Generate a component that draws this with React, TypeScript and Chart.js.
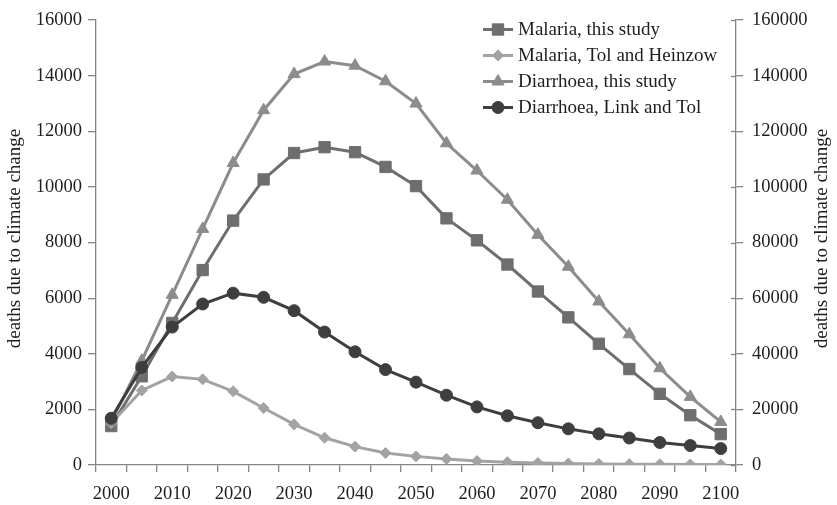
import React, { useEffect, useRef } from "react";
import { Chart, registerables } from "chart.js";
import { drawPoint } from "chart.js/helpers";

Chart.register(...registerables);

const years = [
  "2000", "2005", "2010", "2015", "2020", "2025", "2030", "2035", "2040", "2045", "2050",
  "2055", "2060", "2065", "2070", "2075", "2080", "2085", "2090", "2095", "2100",
];

// left axis (malaria)
const malariaThisStudy = [
  1400, 3190, 5110, 7010, 8790, 10270, 11220, 11430, 11250, 10720, 10030,
  8870, 8080, 7210, 6240, 5310, 4360, 3450, 2560, 1790, 1110,
];
const malariaTolHeinzow = [
  1500, 2680, 3180, 3080, 2650, 2050, 1460, 980, 660, 430, 310,
  220, 140, 100, 75, 55, 40, 30, 25, 20, 15,
];

// right axis (diarrhoea)
const diarrhoeaThisStudy = [
  15500, 37500, 61200, 84900, 108600, 127600, 140600, 145100, 143600, 138000, 130000,
  115700, 105900, 95400, 82800, 71300, 58800, 47000, 34800, 24500, 15500,
];
const diarrhoeaLinkTol = [
  16800, 35100, 49600, 57900, 61800, 60300, 55500, 47800, 40700, 34300, 29800,
  25100, 20900, 17700, 15200, 13000, 11200, 9700, 8100, 7000, 5900,
];

const seriesNames = [
  "Malaria, this study",
  "Malaria, Tol and Heinzow",
  "Diarrhoea, this study",
  "Diarrhoea, Link and Tol",
];
const axisTitle = "deaths due to climate change";

const FONT = '"Liberation Serif", "Times New Roman", serif';
const AXIS = "#858585";
const TEXT = "#1e1e1e";

const overlayPlugin = {
  id: "overlay",
  afterDraw(chart: any) {
    const ctx = chart.ctx as CanvasRenderingContext2D;
    const area = chart.chartArea;
    ctx.save();
    // inner half of right-axis tick marks (crossing ticks)
    const yR = chart.scales.yRight;
    ctx.strokeStyle = AXIS;
    ctx.lineWidth = 1.3;
    yR.ticks.forEach((t: any) => {
      const py = Math.round(yR.getPixelForValue(t.value)) + 0.5;
      ctx.beginPath();
      ctx.moveTo(area.right - 5, py);
      ctx.lineTo(area.right, py);
      ctx.stroke();
    });
    // axis titles (both read bottom-to-top)
    ctx.font = `19px ${FONT}`;
    ctx.fillStyle = TEXT;
    ctx.textAlign = "center";
    ctx.textBaseline = "middle";
    const cy = (area.top + area.bottom) / 2 - 4;
    [15, 822].forEach((x) => {
      ctx.save();
      ctx.translate(x, cy);
      ctx.rotate(-Math.PI / 2);
      ctx.fillText(axisTitle, 0, 0);
      ctx.restore();
    });
    // legend: line + marker + label
    ctx.font = `19px ${FONT}`;
    ctx.textAlign = "left";
    chart.data.datasets.forEach((ds: any, i: number) => {
      const y = 29.5 + 26 * i;
      ctx.strokeStyle = ds.borderColor;
      ctx.lineWidth = 3;
      ctx.beginPath();
      ctx.moveTo(483, y);
      ctx.lineTo(513, y);
      ctx.stroke();
      ctx.fillStyle = ds.pointBackgroundColor;
      ctx.strokeStyle = ds.pointBorderColor;
      ctx.lineWidth = 1;
      drawPoint(ctx, { pointStyle: ds.pointStyle, rotation: 0, radius: ds.pointRadius, borderWidth: 1 }, 498, y);
      ctx.fillStyle = TEXT;
      ctx.fillText(ds.label, 518, y + 1);
    });
    ctx.restore();
  },
};

export default function App() {
  const ref = useRef<HTMLCanvasElement>(null);
  useEffect(() => {
    if (!ref.current) return;
    Chart.defaults.font.family = FONT;
    const mk = (label: string, data: number[], color: string, style: string, radius: number, axis: string, order: number) => ({
      label,
      data,
      yAxisID: axis,
      borderColor: color,
      backgroundColor: color,
      pointBackgroundColor: color,
      pointBorderColor: color,
      pointBorderWidth: 1,
      pointStyle: style,
      pointRadius: radius,
      borderWidth: 3,
      tension: 0,
      fill: false,
      order,
    });
    const tickFont = { size: 18.5, family: FONT };
    const chart = new Chart(ref.current, {
      type: "line",
      data: {
        labels: years,
        datasets: [
          mk(seriesNames[0], malariaThisStudy, "#6e6e6e", "rect", 8, "y", 4),
          mk(seriesNames[1], malariaTolHeinzow, "#a3a3a3", "rectRot", 5.5, "y", 3),
          mk(seriesNames[2], diarrhoeaThisStudy, "#8c8c8c", "triangle", 7, "yRight", 2),
          mk(seriesNames[3], diarrhoeaLinkTol, "#3e3e3e", "circle", 6, "yRight", 1),
        ] as any,
      },
      options: {
        responsive: false,
        animation: false,
        layout: { padding: { top: 15, left: 0, right: 0, bottom: 0 } },
        plugins: { legend: { display: false }, tooltip: { enabled: false } },
        scales: {
          x: {
            type: "category",
            offset: true,
            grid: { offset: true, drawOnChartArea: false, drawTicks: true, tickLength: 7, color: AXIS, lineWidth: 1.3 },
            border: { color: AXIS, width: 1.3 },
            ticks: {
              autoSkip: false,
              maxRotation: 0,
              padding: 11,
              color: TEXT,
              font: tickFont,
              callback: (_v: any, i: number) => (i % 2 === 0 ? years[i] : ""),
            },
            afterFit: (s: any) => { s.height = 40; },
          },
          y: {
            position: "left",
            min: 0,
            max: 16000,
            grid: { drawOnChartArea: false, drawTicks: true, tickLength: 8, color: AXIS, lineWidth: 1.3 },
            border: { color: AXIS, width: 1.3 },
            ticks: { stepSize: 2000, padding: 6, color: TEXT, font: tickFont, callback: (v: any) => String(v) },
            afterFit: (s: any) => { s.width = 96; },
          },
          yRight: {
            position: "right",
            min: 0,
            max: 160000,
            grid: { drawOnChartArea: false, drawTicks: true, tickLength: 7, color: AXIS, lineWidth: 1.3 },
            border: { color: AXIS, width: 1.3 },
            ticks: { stepSize: 20000, padding: 9, color: TEXT, font: tickFont, callback: (v: any) => String(v) },
            afterFit: (s: any) => { s.width = 101; },
          },
        },
      } as any,
      plugins: [overlayPlugin],
    });
    return () => chart.destroy();
  }, []);
  return (
    <div style={{ position: "fixed", left: 0, top: 0, width: 837, height: 505, background: "#fff" }}>
      <canvas ref={ref} width={837} height={505} />
    </div>
  );
}
